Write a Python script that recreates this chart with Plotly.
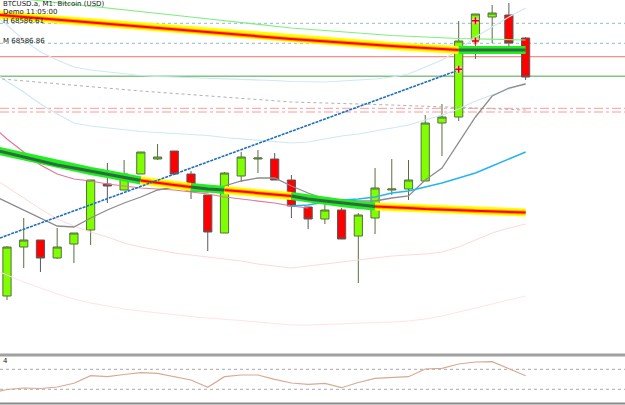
import plotly.graph_objects as go

# ---------------- data (bar index 0..31) ----------------
bars = list(range(32))
open_ = [68064, 68113, 68120, 68102, 68116, 68130, 68176, 68170, 68186, 68201, 68209, 68186, 68165, 68127,
         68184, 68201, 68201, 68180, 68153, 68141, 68150, 68124, 68142, 68170, 68171, 68179, 68237, 68243,
         68320, 68343, 68345, 68322]
high_ = [68114, 68142, 68120, 68132, 68127, 68180, 68197, 68200, 68208, 68216, 68209, 68189, 68165, 68188,
         68208, 68210, 68207, 68185, 68153, 68158, 68152, 68147, 68192, 68201, 68200, 68245, 68256, 68339,
         68346, 68355, 68357, 68323]
low_ = [68060, 68092, 68088, 68101, 68097, 68115, 68157, 68170, 68186, 68200, 68186, 68161, 68109, 68127,
        68178, 68187, 68180, 68142, 68131, 68136, 68121, 68077, 68126, 68165, 68160, 68179, 68204, 68239,
        68301, 68317, 68307, 68280]
close_ = [68113, 68120, 68102, 68113, 68127, 68180, 68174, 68186, 68208, 68203, 68186, 68169, 68128, 68187,
          68203, 68202, 68180, 68154, 68141, 68150, 68121, 68145, 68172, 68171, 68180, 68237, 68243, 68319,
          68346, 68347, 68317, 68283]

bars_ext = [-1] + bars
gray_ma = [68166, 68158, 68150, 68142, 68134, 68133, 68142, 68150, 68157, 68163, 68170, 68173, 68169, 68168,
           68174, 68179, 68182, 68182, 68174, 68167, 68161, 68160, 68159, 68159, 68162, 68164, 68180, 68192,
           68218, 68243, 68264, 68272, 68276]
cyan_x = list(range(17, 32))
cyan_ma = [68154, 68155, 68158, 68160, 68161, 68163, 68167, 68169, 68173, 68177, 68182, 68187, 68194, 68201, 68208]
pink_x = list(range(-1, 19))
pink_ma = [68236, 68221, 68208, 68195, 68186, 68181, 68179, 68176, 68174, 68172, 68171, 68170, 68168, 68166,
           68163, 68161, 68159, 68157, 68154, 68152]
thick_ma = [68211, 68207, 68203, 68199, 68195, 68192, 68189, 68186, 68183, 68179.5, 68177, 68175, 68173, 68171,
            68170, 68168.5, 68167, 68165.5, 68164, 68161, 68159, 68157, 68155, 68153.5, 68153, 68152, 68151,
            68150.5, 68150, 68149, 68148.5, 68148, 68147.5]
thick_states = [(-1, 8, "up"), (8, 11, "dn"), (11, 13, "up"), (13, 17, "dn"), (17, 22, "up"), (22, 31, "dn")]

top_x = [-1, 5, 11, 17, 23, 27]
top_ma = [68345.8, 68337.5, 68329, 68321, 68314, 68310]
flat_x = [27, 31]
flat_ma = [68310, 68310]

lgreen_x = [1, 5, 11, 17, 23, 27, 31]
lgreen_ma = [68361, 68354, 68343, 68332, 68324.5, 68321.5, 68320]

band_up = [68348, 68335, 68320, 68308, 68300, 68293, 68290, 68288, 68286, 68284.5, 68283.5, 68283, 68282,
           68281.5, 68281, 68280.5, 68280, 68279.5, 68278.5, 68278, 68278, 68279, 68280, 68281, 68283, 68286,
           68293, 68300, 68310, 68323, 68333, 68343, 68352]
band_lo = [68290, 68278.5, 68268, 68256, 68246, 68237, 68234, 68232, 68230, 68228.5, 68227.5, 68226.5,
           68225.5, 68224.5, 68222.5, 68221, 68219.5, 68218, 68217, 68218, 68221, 68224, 68226, 68229, 68231.5,
           68235, 68240, 68245, 68251, 68259, 68265, 68271, 68277]
env_up = [68184, 68173, 68162, 68151, 68141, 68134, 68128, 68123, 68117, 68113, 68110, 68107, 68105, 68103,
          68101, 68099, 68096, 68094, 68092, 68094, 68096, 68098, 68100, 68102, 68104, 68105, 68106, 68108,
          68113, 68120, 68127, 68132, 68136]
env_lo = [68092, 68085, 68078, 68072, 68066, 68061, 68057, 68054, 68051, 68049, 68047, 68045, 68043.5, 68042,
          68041, 68039.5, 68038, 68036.5, 68035, 68035, 68035.5, 68036, 68036.5, 68037, 68038, 68039, 68041,
          68044, 68048, 68052, 68056, 68060, 68064]

gdot_x = [-1, 8, 17, 23, 31]
gdot_y = [68282, 68269, 68258, 68255, 68250]

trend_x = [-0.42, 27]
trend_y = [68122, 68290]

marks_x = [27, 28, 28]
marks_y = [68290.7, 68339.3, 68319]

lvl_dotted = [68336.7, 68316.7]
lvl_red = [68303.3]
lvl_green = [68283.7]
lvl_dashdot = [68251.7, 68248]

osc_x = [-1] + bars
osc = [22, 29.6, 32.6, 31.6, 34.6, 42, 57.2, 55.2, 59.6, 63.2, 62, 55.2, 48.6, 34, 55.2, 58.6, 58.6, 50,
       42.6, 40, 42, 33.2, 43.6, 52, 53.6, 55.2, 70.6, 72, 80.6, 84.6, 85.2, 72, 57.2]
osc_levels = [70, 30]

title_lines = ["BTCUSD.a, M1: Bitcoin (USD)", "Demo 11:05:00"]
level_labels = ["H 68586.61", "M 68586.86"]
osc_label = "4"

# ---------------- figure ----------------
fig = go.Figure()

def line(x, y, color, width, dash=None, opacity=1.0, ya="y"):
    fig.add_trace(go.Scatter(x=x, y=y, mode="lines", yaxis=ya, opacity=opacity,
                             line=dict(color=color, width=width, dash=dash),
                             hoverinfo="skip", showlegend=False))

fig.add_trace(go.Candlestick(
    x=bars, open=open_, high=high_, low=low_, close=close_,
    increasing=dict(fillcolor="#7fff00", line=dict(color="#55703f", width=1)),
    decreasing=dict(fillcolor="#ff0000", line=dict(color="#5a5a5a", width=1)),
    showlegend=False, hoverinfo="skip"))

# faint bands
line(bars_ext, env_up, "#ffd8d8", 1)
line(bars_ext, env_lo, "#ffe4e4", 1)
line(bars_ext, band_up, "#cfe8f2", 1.2)
line(bars_ext, band_lo, "#cfe8f2", 1.2)
line(gdot_x, gdot_y, "#b0b0b0", 1, dash="dot")
line(lgreen_x, lgreen_ma, "#7fef7f", 1.2)
line(pink_x, pink_ma, "#e07898", 1.2)
line(bars_ext, gray_ma, "#8c8c8c", 1.3)
line(cyan_x, cyan_ma, "#25b4f0", 1.5)

def thick(xs, ys, state):
    if state == "up":
        line(xs, ys, "#22ee22", 8)
        line(xs, ys, "#2f6a40", 3)
    else:
        line(xs, ys, "#ffff00", 8)
        line(xs, ys, "#ffa500", 4)
        line(xs, ys, "#ff0000", 2)

for s, e, st in thick_states:
    idx = [k for k, b in enumerate(bars_ext) if s <= b <= e]
    thick([bars_ext[k] for k in idx], [thick_ma[k] for k in idx], st)

thick(top_x, top_ma, "dn")
thick(flat_x, flat_ma, "up")

line(trend_x, trend_y, "#1f6fc0", 1.6, dash="3px,1px")

fig.add_trace(go.Scatter(x=marks_x, y=marks_y, mode="markers",
                         marker=dict(symbol="circle", size=7, color="#f7c6c6"),
                         hoverinfo="skip", showlegend=False))
fig.add_trace(go.Scatter(x=marks_x, y=marks_y, mode="markers",
                         marker=dict(symbol="cross-thin", size=5, line=dict(color="#e00000", width=1.5)),
                         hoverinfo="skip", showlegend=False))

# oscillator
line(osc_x, osc, "#d7aa94", 1.2, ya="y2")

shapes = []
for v in lvl_dotted:
    shapes.append(dict(type="line", xref="paper", x0=0, x1=1, yref="y", y0=v, y1=v,
                       line=dict(color="#8fbccb", width=1, dash="dot"), layer="below"))
for v in lvl_red:
    shapes.append(dict(type="line", xref="paper", x0=0, x1=1, yref="y", y0=v, y1=v,
                       line=dict(color="#ff8c8c", width=1.2), layer="below"))
for v in lvl_green:
    shapes.append(dict(type="line", xref="paper", x0=0, x1=1, yref="y", y0=v, y1=v,
                       line=dict(color="#86c486", width=1.5), layer="below"))
for v in lvl_dashdot:
    shapes.append(dict(type="line", xref="paper", x0=0, x1=1, yref="y", y0=v, y1=v,
                       line=dict(color="#ff9a9a", width=1, dash="dashdot"), layer="below"))
for v in osc_levels:
    shapes.append(dict(type="line", xref="paper", x0=0, x1=1, yref="y2", y0=v, y1=v,
                       line=dict(color="#a8a8a8", width=1, dash="dot"), layer="below"))
# panel separators
H = 405.0
shapes.append(dict(type="line", xref="paper", x0=0, x1=1, yref="paper", y0=1 - 355 / H, y1=1 - 355 / H,
                   line=dict(color="#a0a0a0", width=3)))
shapes.append(dict(type="line", xref="paper", x0=0, x1=1, yref="paper", y0=1 - 403.5 / H, y1=1 - 403.5 / H,
                   line=dict(color="#8a8a8a", width=2)))

ann = []
txt_font = dict(family="DejaVu Sans", size=7, color="#202020")
for k, t in enumerate(title_lines):
    ann.append(dict(text=t, xref="paper", yref="paper", x=0, y=1 - (4.5 + 7.5 * k) / H,
                    xanchor="left", yanchor="middle", showarrow=False, font=txt_font, xshift=1))
for k, t in enumerate(level_labels):
    ann.append(dict(text=t, xref="paper", yref="y", x=0, y=lvl_dotted[k] + 2.5,
                    xanchor="left", yanchor="middle", showarrow=False, font=txt_font, xshift=1))
ann.append(dict(text=osc_label, xref="paper", yref="paper", x=0, y=1 - 361 / H, xanchor="left",
                yanchor="middle", showarrow=False, font=txt_font, xshift=1))

fig.update_layout(
    width=625, height=405, margin=dict(l=0, r=0, t=0, b=0),
    paper_bgcolor="white", plot_bgcolor="white",
    xaxis=dict(range=[-0.418, 36.94], visible=False, rangeslider=dict(visible=False), fixedrange=True),
    yaxis=dict(range=[68007, 68360], domain=[1 - 353 / H, 1], visible=False),
    yaxis2=dict(range=[2.6, 96.6], domain=[1 - 403 / H, 1 - 356 / H], visible=False, anchor="x"),
    shapes=shapes, annotations=ann, showlegend=False,
)

fig.write_html("out.html")
